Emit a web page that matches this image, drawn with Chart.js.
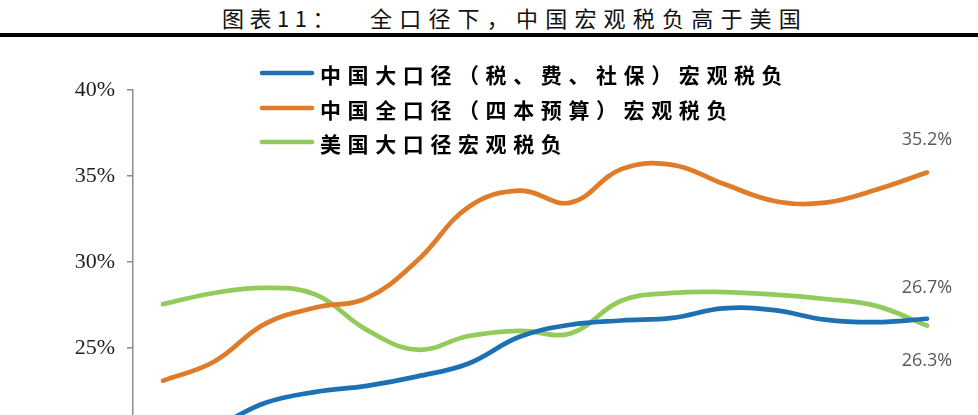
<!DOCTYPE html>
<html>
<head>
<meta charset="utf-8">
<script src="https://cdn.jsdelivr.net/npm/chart.js@4.4.1/dist/chart.umd.min.js"></script>
<style>
    html, body { margin: 0; padding: 0; background: #fff; }
    .frame { position: relative; width: 978px; height: 415px; overflow: hidden; background: #fff; }
    .title { position: absolute; top: 6px; font-family: "Noto Sans CJK SC", sans-serif; font-weight: 400;
             font-size: 22px; line-height: 22px; letter-spacing: 5.5px; color: #111; white-space: nowrap; }
    .rule { position: absolute; left: 0; top: 33px; width: 978px; height: 4px; background: #000; }
    #chart { position: absolute; left: 0; top: 0; }
</style>
</head>
<body>
<div class="frame">
    <div class="title" style="left:222px">图表11：</div>
    <div class="title" style="left:370px; letter-spacing:7.2px">全口径下，中国宏观税负高于美国</div>
    <div class="rule"></div>
    <canvas id="chart" width="978" height="560"></canvas>
</div>
<script>
// years (x axis itself is below the visible crop)
const years = ['2002', '2003', '2004', '2005', '2006', '2007', '2008', '2009',
               '2010', '2011', '2012', '2013', '2014', '2015', '2016', '2017'];

// 中国大口径（税、费、社保）宏观税负, %
const chinaBroad = [19.6, 20.4, 21.8, 22.45, 22.8, 23.35, 24.1, 25.65,
                    26.35, 26.6, 26.75, 27.3, 27.2, 26.65, 26.5, 26.7];
// 中国全口径（四本预算）宏观税负, %
const chinaFull = [23.1, 24.2, 26.4, 27.35, 27.9, 30.1, 33.2, 34.15,
                   33.45, 35.4, 35.65, 34.55, 33.55, 33.45, 34.2, 35.2];
// 美国大口径宏观税负, %
const usBroad = [27.55, 28.2, 28.5, 28.1, 26.05, 24.9, 25.7, 26.0,
                 25.85, 27.75, 28.2, 28.25, 28.1, 27.85, 27.45, 26.3];

const seriesNames = ['中国大口径（税、费、社保）宏观税负', '中国全口径（四本预算）宏观税负', '美国大口径宏观税负'];
const seriesColors = ['#1d70b3', '#e07b2a', '#92cb5b'];

const yTicks = [15, 20, 25, 30, 35, 40];

const toPoints = arr => arr.map((v, i) => ({ x: i, y: v }));

// legend drawn top-left of the plot, with wide CJK spacing
const legendPlugin = {
    id: 'sparseLegend',
    afterDraw(chart) {
        const ctx = chart.ctx;
        const rows = [73, 108, 142];
        ctx.save();
        chart.data.datasets.forEach((ds, i) => {
            const y = rows[i];
            ctx.strokeStyle = ds.borderColor;
            ctx.lineWidth = 4.7;
            ctx.lineCap = 'round';
            ctx.beginPath();
            ctx.moveTo(262, y);
            ctx.lineTo(312, y);
            ctx.stroke();
            ctx.fillStyle = '#000';
            ctx.font = 'bold 21px "Noto Sans CJK SC"';
            ctx.letterSpacing = '6.6px';
            ctx.textBaseline = 'middle';
            ctx.textAlign = 'left';
            ctx.fillText(ds.label, 320, y + 2);
        });
        ctx.restore();
    }
};

// end values, above or below the last point
const endLabelPlugin = {
    id: 'endLabels',
    afterDatasetsDraw(chart) {
        const ctx = chart.ctx;
        const offsets = [-31, -33, 35];
        ctx.save();
        ctx.font = '18px "Open Sans"';
        ctx.fillStyle = '#595959';
        ctx.textAlign = 'center';
        ctx.textBaseline = 'middle';
        chart.data.datasets.forEach((ds, i) => {
            const meta = chart.getDatasetMeta(i);
            const last = meta.data[meta.data.length - 1];
            const v = ds.data[ds.data.length - 1].y;
            ctx.fillText(v.toFixed(1) + '%', last.x, last.y + offsets[i]);
        });
        ctx.restore();
    }
};

const ctx = document.getElementById('chart').getContext('2d');
new Chart(ctx, {
    type: 'line',
    data: {
        datasets: [chinaBroad, chinaFull, usBroad].map((arr, i) => ({
            label: seriesNames[i],
            data: toPoints(arr),
            borderColor: seriesColors[i],
            backgroundColor: seriesColors[i],
            borderWidth: 4.7,
            borderCapStyle: 'round',
            pointRadius: 0,
            tension: 0.4,
            clip: false
        }))
    },
    options: {
        responsive: false,
        animation: false,
        layout: { padding: { top: 90, right: 51, bottom: 40, left: 0 } },
        plugins: { legend: { display: false }, tooltip: { enabled: false } },
        scales: {
            x: {
                type: 'linear',
                min: -0.589,
                max: years.length - 1,
                display: false
            },
            y: {
                min: yTicks[0],
                max: yTicks[yTicks.length - 1],
                afterFit(scale) { scale.width = 133; },
                afterBuildTicks(scale) { scale.ticks = yTicks.map(v => ({ value: v })); },
                border: { display: true, color: '#8c8c8c', width: 1.5 },
                grid: { drawOnChartArea: false, drawTicks: true, tickLength: 6, color: '#8c8c8c', lineWidth: 1.5 },
                ticks: {
                    padding: 12,
                    color: '#222',
                    font: { family: '"Liberation Serif", serif', size: 22 },
                    callback: v => v + '%'
                }
            }
        }
    },
    plugins: [legendPlugin, endLabelPlugin]
});
</script>
</body>
</html>
